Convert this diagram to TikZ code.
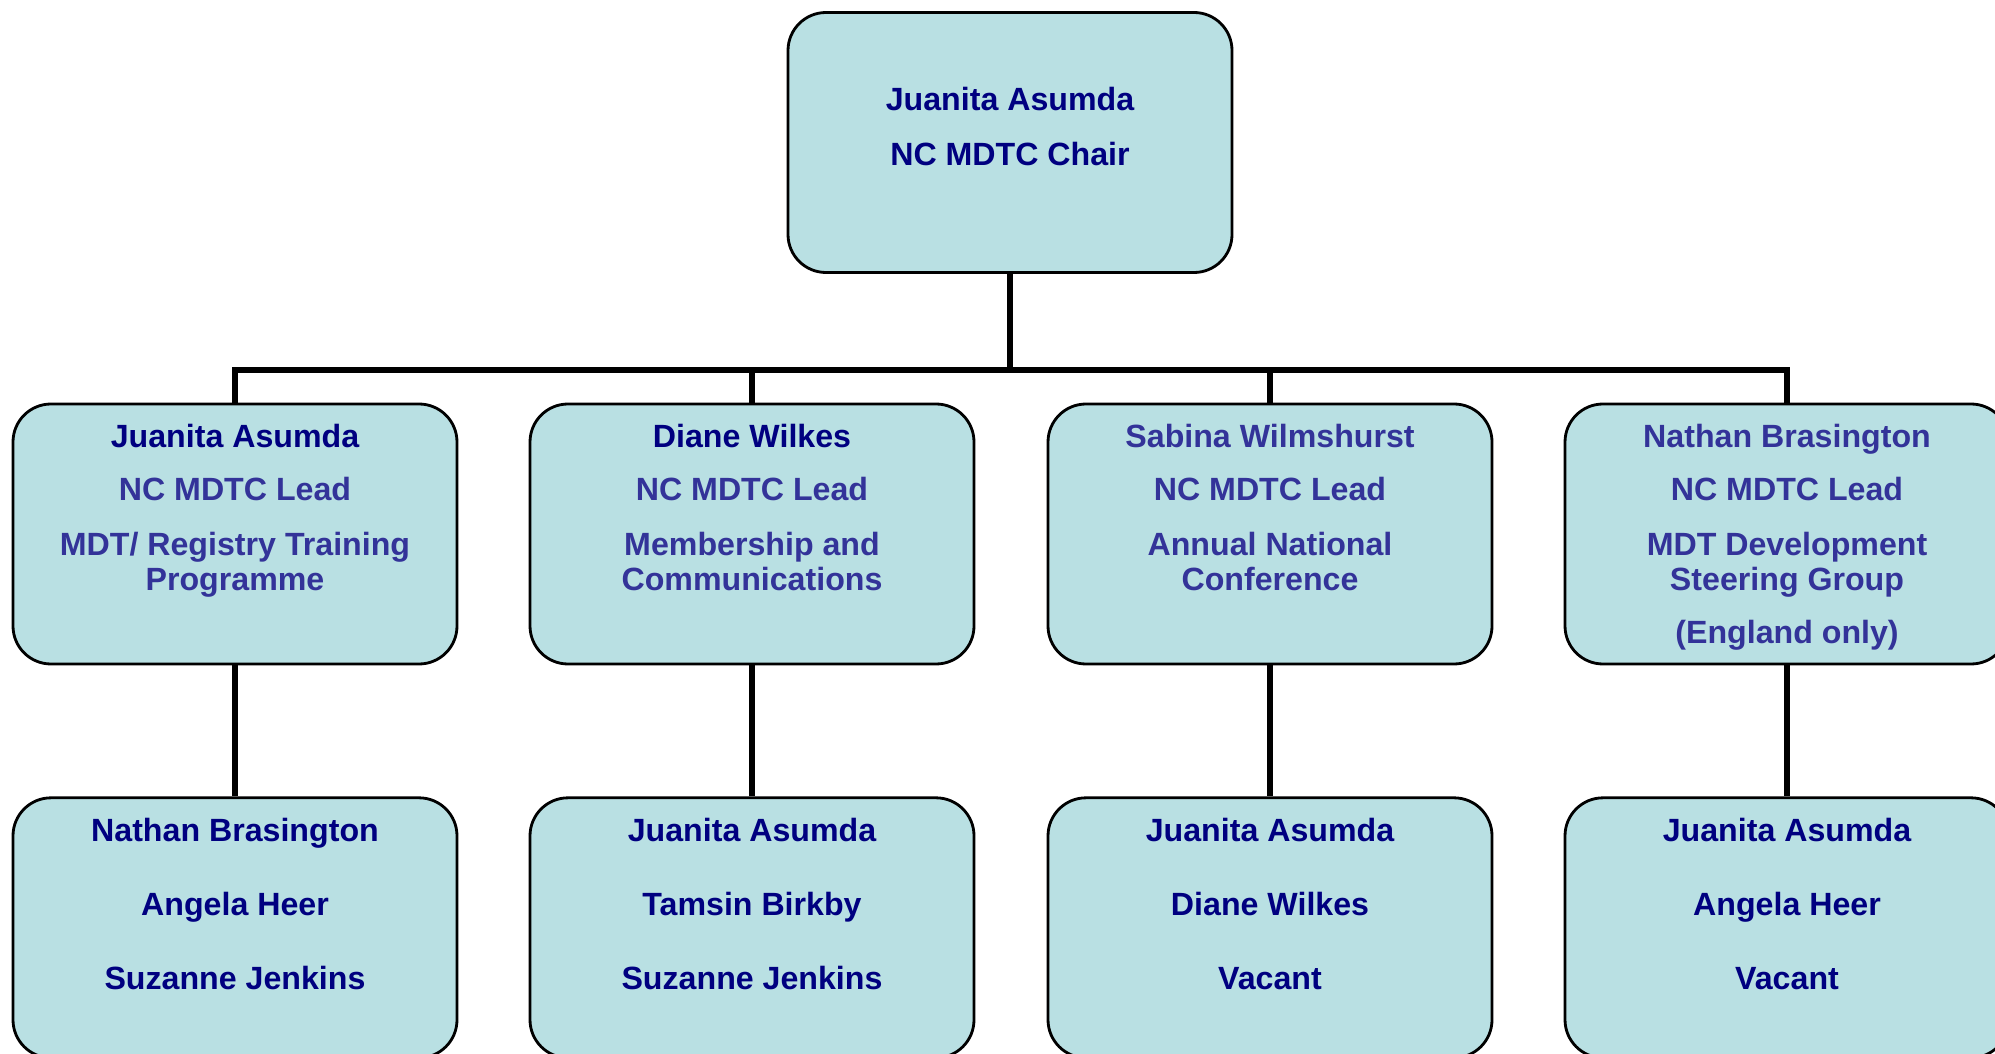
\documentclass[tikz,border=0pt]{standalone}
\usepackage{fontspec}
\setmainfont{Liberation Sans}
\usetikzlibrary{positioning}
\definecolor{boxfill}{RGB}{185,224,227}
\definecolor{navy}{RGB}{0,0,128}
\definecolor{role}{RGB}{51,51,153}
\newcommand{\unittext}[1]{\parbox[c][2.19cm][t]{4.2cm}{\centering #1}}
\tikzset{
  unit/.style={draw=black, line width=0.8pt, fill=boxfill, rounded corners=0.38cm,
    inner xsep=0.12cm, inner ysep=0.205cm, text=navy, font=\bfseries\fontsize{9.15}{10}\selectfont},
  link/.style={line width=1.7pt}
}

\begin{document}
\begin{tikzpicture}
  \useasboundingbox (0,0) rectangle (19.95,10.53);

  % chair
  \node[unit] (chair) at (10.10,9.105) {\unittext{\vspace*{0.54cm}Juanita Asumda\\[0.2cm]NC MDTC Chair}};

  % leads
  \node[unit] (lead1) at (2.35,5.19) {\unittext{Juanita Asumda\\[0.18cm]{\color{role}NC MDTC Lead\\[0.19cm]MDT/ Registry Training\\Programme}}};
  \node[unit] (lead2) at (7.52,5.19) {\unittext{Diane Wilkes\\[0.18cm]{\color{role}NC MDTC Lead\\[0.19cm]Membership and\\Communications}}};
  \node[unit] (lead3) at (12.70,5.19) {\unittext{{\color{role}Sabina Wilmshurst\\[0.18cm]NC MDTC Lead\\[0.19cm]Annual National\\Conference}}};
  \node[unit] (lead4) at (17.87,5.19) {\unittext{{\color{role}Nathan Brasington\\[0.18cm]NC MDTC Lead\\[0.19cm]MDT Development\\Steering Group\\[0.18cm](England only)}}};

  % teams
  \node[unit, below=1.31 of lead1] (team1) {\unittext{Nathan Brasington\\[0.39cm]Angela Heer\\[0.39cm]Suzanne Jenkins}};
  \node[unit, below=1.31 of lead2] (team2) {\unittext{Juanita Asumda\\[0.39cm]Tamsin Birkby\\[0.39cm]Suzanne Jenkins}};
  \node[unit, below=1.31 of lead3] (team3) {\unittext{Juanita Asumda\\[0.39cm]Diane Wilkes\\[0.39cm]Vacant}};
  \node[unit, below=1.31 of lead4] (team4) {\unittext{Juanita Asumda\\[0.39cm]Angela Heer\\[0.39cm]Vacant}};

  % connectors
  \coordinate (bus) at (10.10,6.83);
  \draw[link] (chair.south) -- (bus);
  \draw[link] (lead1.north) |- (bus) -| (lead4.north);
  \draw[link] (lead2.north) -- (lead2.north |- bus);
  \draw[link] (lead3.north) -- (lead3.north |- bus);
  \foreach \i in {1,...,4}
    \draw[link] (lead\i) -- (team\i);
\end{tikzpicture}
\end{document}
